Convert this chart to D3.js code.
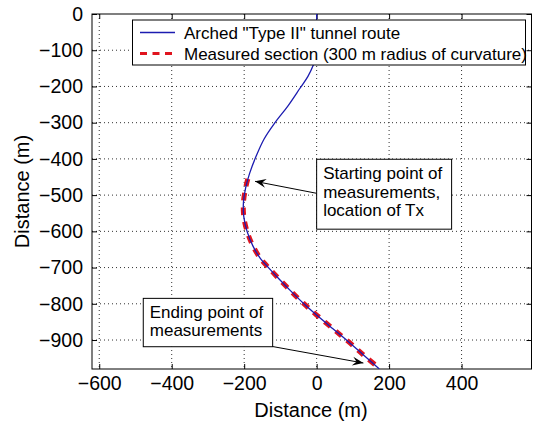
<!DOCTYPE html>
<html>
  <head>
    <meta http-equiv="Content-Type" content="text/html;charset=utf-8">
    <script src="https://d3js.org/d3.v7.min.js"></script>
    <style>
      body { margin: 0; background: #fff; }
      text { font-family: "Liberation Sans", Arial, Helvetica, sans-serif; fill: #000; }
    </style>
  </head>
  <body>
    <svg id="chart" width="533" height="423"></svg>
    <script type="text/javascript">

// tunnel route (m)
var routeX = [0, 0, -3, -10, -24, -46, -80, -115, -145, -168, -185, -196, -202, -201, -192, -176, -155, -133, -105, -71, -36, 0, 45, 87, 130, 173];
var routeY = [0, -90, -120, -143, -172, -205, -255, -300, -345, -395, -440, -480, -520, -560, -600, -640, -675, -700, -730, -765, -799, -831, -869, -904, -942, -980];

// measured section (300 m radius of curvature)
var measX = [-190, -196, -202, -201, -192, -176, -155, -133, -105, -71, -36, 0, 45, 87, 130, 161];
var measY = [-455, -480, -520, -560, -600, -640, -675, -700, -730, -765, -799, -831, -869, -904, -942, -968];

var xTicks = [-600, -400, -200, 0, 200, 400];
var yTicks = [0, -100, -200, -300, -400, -500, -600, -700, -800, -900];

var legendLabels = ['Arched "Type II" tunnel route', 'Measured section (300 m radius of curvature)'];

var startNote = ["Starting point of", "measurements,", "location of Tx"];
var endNote = ["Ending point of", "measurements"];

// plot box in pixels (note: "top" is taken by window.top)
var pL = 92, pT = 14, pR = 531.5, pB = 369;

var svg = d3.select("#chart");

var x = d3.scaleLinear().domain([-620, 593]).range([pL, pR]);
var y = d3.scaleLinear().domain([-980, 0]).range([pB, pT]);

var grid = svg.append("g")
    .attr("stroke", "#333")
    .attr("stroke-width", 1)
    .attr("stroke-dasharray", "1,3");

grid.selectAll(".gx").data(xTicks).enter().append("line")
    .attr("x1", d => x(d)).attr("x2", d => x(d))
    .attr("y1", pT).attr("y2", pB);

grid.selectAll(".gy").data(yTicks.filter(d => d != 0)).enter().append("line")
    .attr("y1", d => y(d)).attr("y2", d => y(d))
    .attr("x1", pL).attr("x2", pR);

// axes, MATLAB style: ticks point inward, on all four sides
var axB = svg.append("g").attr("transform", "translate(0," + pB + ")")
    .call(d3.axisBottom(x).tickValues(xTicks).tickSizeInner(-5).tickSizeOuter(0).tickPadding(10));
var axT = svg.append("g").attr("transform", "translate(0," + pT + ")")
    .call(d3.axisTop(x).tickValues(xTicks).tickSizeInner(-5).tickSizeOuter(0).tickFormat(""));
var axL = svg.append("g").attr("transform", "translate(" + pL + ",0)")
    .call(d3.axisLeft(y).tickValues(yTicks).tickSizeInner(-5).tickSizeOuter(0).tickPadding(9));
var axR = svg.append("g").attr("transform", "translate(" + pR + ",0)")
    .call(d3.axisRight(y).tickValues(yTicks).tickSizeInner(-5).tickSizeOuter(0).tickFormat(""));

[axB, axT, axL, axR].forEach(function (a) {
  a.select(".domain").remove();
  a.attr("font-family", null).attr("font-size", null);
  a.selectAll("line").attr("stroke", "#000");
  a.selectAll("text").style("font-size", "19.5px");
});
axB.selectAll("text").attr("dy", "0.71em").attr("y", 7.5);

svg.append("rect")
    .attr("x", pL).attr("y", pT)
    .attr("width", pR - pL).attr("height", pB - pT)
    .attr("fill", "none").attr("stroke", "#000").attr("stroke-width", 1);

svg.append("clipPath").attr("id", "clip").append("rect")
    .attr("x", pL).attr("y", pT)
    .attr("width", pR - pL).attr("height", pB - pT);

var line = d3.line()
    .x(d => x(d[0])).y(d => y(d[1]))
    .curve(d3.curveCatmullRom.alpha(0.5));

var plot = svg.append("g").attr("clip-path", "url(#clip)");

plot.append("path")
    .datum(measX.map((v, i) => [v, measY[i]]))
    .attr("d", line)
    .attr("fill", "none")
    .attr("stroke", "#e0141e")
    .attr("stroke-width", 5)
    .attr("stroke-dasharray", "7.5,7");

plot.append("path")
    .datum(routeX.map((v, i) => [v, routeY[i]]))
    .attr("d", line)
    .attr("fill", "none")
    .attr("stroke", "#1c1cb0")
    .attr("stroke-width", 1.3);

// legend
var lg = svg.append("g");
lg.append("rect")
    .attr("x", 132.5).attr("y", 20).attr("width", 393).attr("height", 45)
    .attr("fill", "#fff").attr("stroke", "#000");
lg.append("line").attr("x1", 140).attr("x2", 175).attr("y1", 32.5).attr("y2", 32.5)
    .attr("stroke", "#1c1cb0").attr("stroke-width", 1.3);
lg.append("line").attr("x1", 140).attr("x2", 175).attr("y1", 53.5).attr("y2", 53.5)
    .attr("stroke", "#e0141e").attr("stroke-width", 3).attr("stroke-dasharray", "7,5.5");
lg.selectAll("text").data(legendLabels).enter().append("text")
    .attr("x", 184).attr("y", (d, i) => 38.5 + i * 21.5)
    .style("font-size", "17px")
    .text(d => d);

// annotations
svg.append("defs").append("marker")
    .attr("id", "head")
    .attr("markerUnits", "userSpaceOnUse")
    .attr("markerWidth", 14).attr("markerHeight", 14)
    .attr("refX", 0).attr("refY", 0)
    .attr("viewBox", "-12 -6 14 12")
    .attr("orient", "auto")
    .append("path")
    .attr("d", "M0,0 L-11,-4.5 L-7,0 L-11,4.5 Z")
    .attr("fill", "#000");

function note(lines, bx0, by0, bx1, by1, tail, tip, lineH) {
  var g = svg.append("g");
  g.append("line")
      .attr("x1", x(tail[0])).attr("y1", y(tail[1]))
      .attr("x2", x(tip[0])).attr("y2", y(tip[1]))
      .attr("stroke", "#000").attr("stroke-width", 1)
      .attr("marker-end", "url(#head)");
  g.append("rect")
      .attr("x", x(bx0)).attr("y", y(by0))
      .attr("width", x(bx1) - x(bx0)).attr("height", y(by1) - y(by0))
      .attr("fill", "#fff").attr("stroke", "#000");
  g.selectAll("text").data(lines).enter().append("text")
      .attr("x", x(bx0) + 6.5)
      .attr("y", (d, i) => y(by0) + 19.5 + i * lineH)
      .style("font-size", "17px")
      .text(d => d);
}

note(startNote, 0, -401, 372.5, -594, [0, -495], [-170, -462], 18.8);
note(endNote, -478.5, -785, -121.4, -918.5, [-121.4, -918], [129, -963.5], 18.4);

// axis titles
svg.append("text")
    .attr("x", 311).attr("y", 417)
    .attr("text-anchor", "middle")
    .style("font-size", "20px")
    .text("Distance (m)");

svg.append("text")
    .attr("transform", "translate(28.5," + 191.5 + ") rotate(-90)")
    .attr("text-anchor", "middle")
    .style("font-size", "20px")
    .text("Distance (m)");

    </script>
  </body>
</html>
